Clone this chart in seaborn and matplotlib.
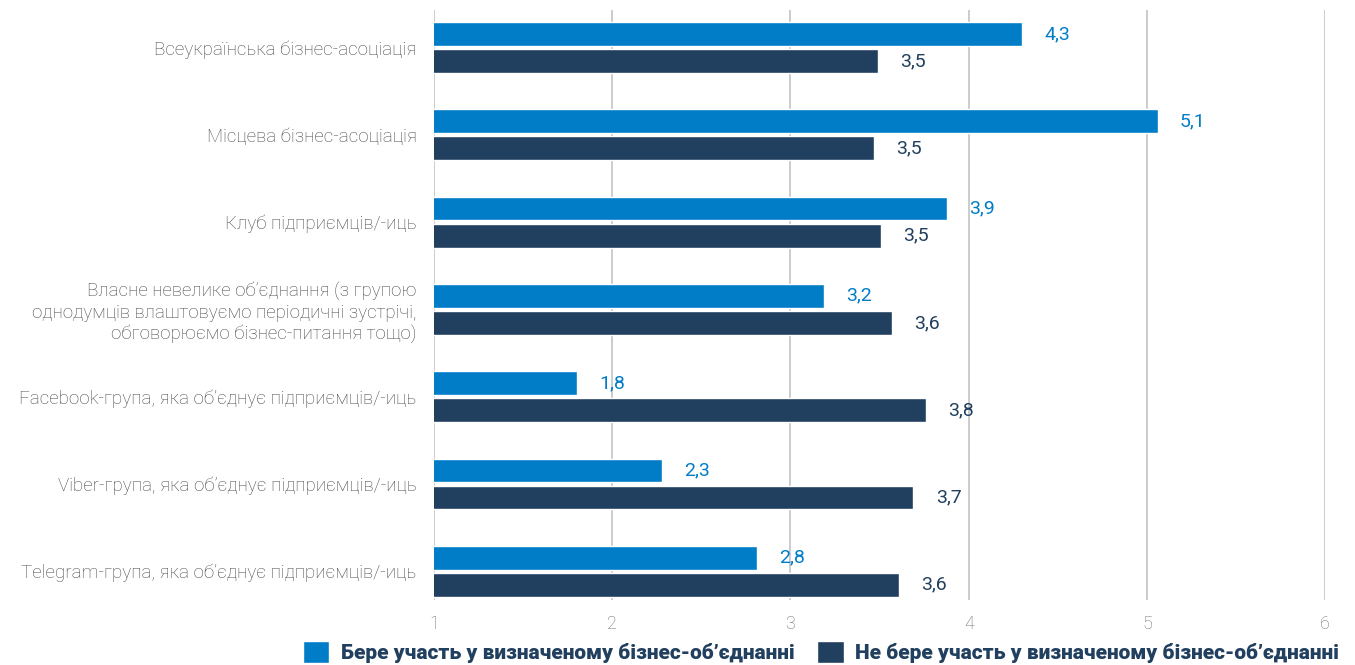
import pandas as pd
import numpy as np
import matplotlib.pyplot as plt
import seaborn as sns

sns.set_theme(style="white")
plt.rcParams['font.family'] = ['Roboto', 'DejaVu Sans']

# categories (top to bottom)
categories = [
    "Всеукраїнська бізнес-асоціація",
    "Місцева бізнес-асоціація",
    "Клуб підприємців/-иць",
    "Власне невелике об’єднання (з групою\nоднодумців влаштовуємо періодичні зустрічі,\nобговорюємо бізнес-питання тощо)",
    "Facebook-група, яка об’єднує підприємців/-иць",
    "Viber-група, яка об’єднує підприємців/-иць",
    "Telegram-група, яка об’єднує підприємців/-иць",
]
series_names = ["Бере участь у визначеному бізнес-об’єднанні",
                "Не бере участь у визначеному бізнес-об’єднанні"]
member = [4.30, 5.06, 3.88, 3.19, 1.80, 2.28, 2.81]
non_member = [3.49, 3.47, 3.51, 3.57, 3.76, 3.69, 3.61]
member_labels = ["4,3", "5,1", "3,9", "3,2", "1,8", "2,3", "2,8"]
non_member_labels = ["3,5", "3,5", "3,5", "3,6", "3,8", "3,7", "3,6"]

colors = ["#007DC6", "#213F5E"]

df = pd.DataFrame({
    "category": categories * 2,
    "value": member + non_member,
    "group": [series_names[0]] * len(categories) + [series_names[1]] * len(categories),
})

fig = plt.figure(figsize=(13.55, 6.65), dpi=100)
ax = fig.add_axes([0.3203, 0.0977, 0.978 - 0.3203, 0.985 - 0.0977])

sns.barplot(data=df, y="category", x="value", hue="group", orient="h",
            palette=colors, saturation=1, width=0.62, gap=0.12, ax=ax, legend=True)

ax.set_xlim(1, 6)
ax.set_ylim(6.33, -0.43)
ax.set_xticks([1, 2, 3, 4, 5, 6])
ax.grid(axis="x", color="#CCCCCC", linewidth=1.4)
ax.set_axisbelow(True)
for s in ax.spines.values():
    s.set_visible(False)
ax.set_xlabel("")
ax.set_ylabel("")
ax.tick_params(axis="y", length=0, pad=12.5, labelsize=13.5, labelcolor="#4A4A4A")
ax.tick_params(axis="x", length=0, pad=11, labelsize=13, labelcolor="#6F6F6F")
for lab in ax.get_yticklabels():
    lab.set_fontweight("light")
for lab in ax.get_xticklabels():
    lab.set_fontweight("light")

# value labels
for cont, labs, col in zip(ax.containers, [member_labels, non_member_labels], colors):
    ax.bar_label(cont, labels=labs, padding=16, color=col, fontsize=14)

handles, labels = ax.get_legend_handles_labels()
ax.get_legend().remove()
fig.legend(handles, labels, loc="lower center", ncol=2, bbox_to_anchor=(0.606, -0.025),
           frameon=False, handlelength=1.25, handleheight=1.25, handletextpad=0.55,
           columnspacing=1.1, prop={"weight": "heavy", "size": 15},
           labelcolor="#213F5E")

fig.savefig("out.png", dpi=100)
